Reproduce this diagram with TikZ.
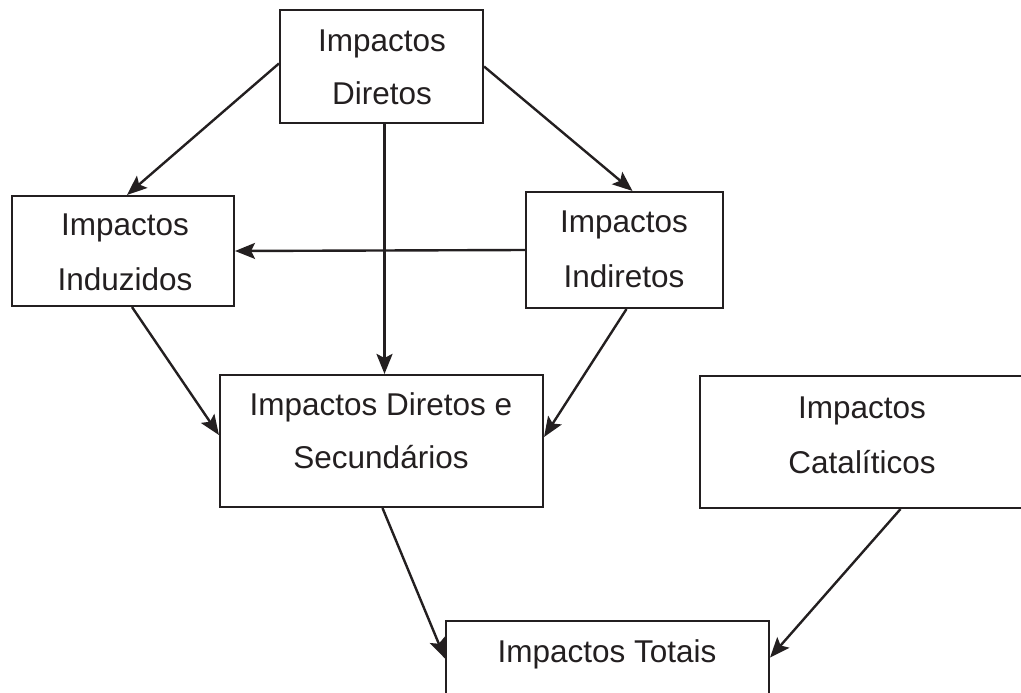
\documentclass[tikz,border=0pt]{standalone}
\usepackage{fontspec}
\setmainfont{Liberation Sans}
\usetikzlibrary{arrows.meta}
\definecolor{ink}{HTML}{231F20}
\begin{document}
\begin{tikzpicture}[x=1pt,y=-1pt,
  box/.style={draw=ink, line width=2.1pt, rectangle, inner sep=0pt},
  txt/.style={anchor=base, inner sep=0pt, text=ink, font=\fontsize{31.5}{38}\selectfont},
  conn/.style={draw=ink, line width=2.4pt, -{Stealth[length=20pt,width=16pt,inset=4pt]}}]
\useasboundingbox (0,0) rectangle (1021,693);
% boxes
\node[box, minimum width=203pt, minimum height=113pt] (dir) at (381.5,66.5) {};
\node[box, minimum width=222pt, minimum height=110pt] (ind) at (123,251) {};
\node[box, minimum width=197pt, minimum height=116pt] (indr) at (624.5,250) {};
\node[box, minimum width=323pt, minimum height=132pt] (ds) at (381.5,441) {};
\node[box, minimum width=325pt, minimum height=132pt] (cat) at (862.5,442) {};
\node[box, minimum width=323pt, minimum height=79pt] (tot) at (607.5,660.5) {};
% texts
\node[txt] (dirA) at (382,52) {Impactos};
\node[txt] (dirB) at (382,105) {Diretos};
\node[txt] (indA) at (125,235) {Impactos};
\node[txt] (indB) at (125,290) {Induzidos};
\node[txt] (indrA) at (624,232) {Impactos};
\node[txt] (indrB) at (624,287) {Indiretos};
\node[txt] (dsA) at (381,415) {Impactos Diretos e};
\node[txt] (dsB) at (381,468) {Secundários};
\node[txt] (catA) at (862,418) {Impactos};
\node[txt] (catB) at (862,473) {Catalíticos};
\node[txt] (totA) at (607,662) {Impactos Totais};
% connectors
\draw[conn] ([yshift=3pt]dir.west) -- ([xshift=4pt]ind.north);
\draw[conn] (dir.east) -- ([xshift=8pt]indr.north);
\draw[conn] ([xshift=3pt]dir.south) -- ([xshift=3pt]ds.north);
\draw[conn] (indr.west) -- (ind.east);
\draw[conn] ([xshift=9pt]ind.south) -- ([yshift=6pt]ds.west);
\draw[conn] ([xshift=2pt]indr.south) -- ([yshift=4pt]ds.east);
\draw[conn] ([xshift=1pt]ds.south) -- ([yshift=2pt]tot.west);
\draw[conn] ([xshift=38pt]cat.south) -- ([yshift=3pt]tot.east);
\end{tikzpicture}
\end{document}
